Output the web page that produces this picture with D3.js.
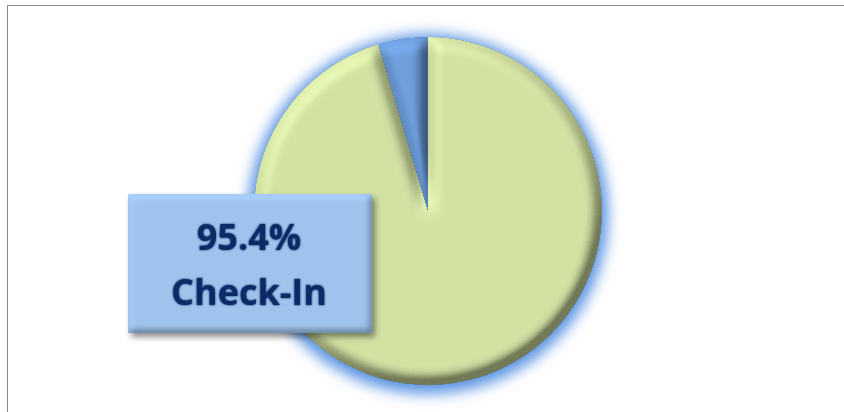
<!DOCTYPE html>
<html>
<head>
<meta charset="utf-8">
<script src="https://cdn.jsdelivr.net/npm/d3@7"></script>
<style>
  html, body { margin: 0; padding: 0; background: #fff; }
  svg { display: block; }
</style>
</head>
<body>
<svg class="chart" width="844" height="412"></svg>
<script>
// chart data
var categories = ["Check-In", "Other"];
var values = [95.4, 4.6];
var sliceColors = ["#D3E2A4", "#6E9EDC"];
var labelIndex = 0;

var svgW = 844;
var svgH = 412;
var cx = 428;
var cy = 211;
var radius = 174;

var svg = d3.select("svg.chart");
var defs = svg.append("defs");

// bevel filter: blurred alpha used as a height map, lit from the top left,
// then multiplied onto the fill so that hues are kept
function addBevel(id, blur, scale, lo, hi) {
    var f = defs.append("filter")
        .attr("id", id)
        .attr("x", "-10%").attr("y", "-10%")
        .attr("width", "120%").attr("height", "120%");
    f.append("feGaussianBlur")
        .attr("in", "SourceAlpha")
        .attr("stdDeviation", blur)
        .attr("result", "blur");
    f.append("feDiffuseLighting")
        .attr("in", "blur")
        .attr("surfaceScale", scale)
        .attr("diffuseConstant", 0.5 / Math.sin(Math.PI * 50 / 180))
        .attr("lighting-color", "#fff")
        .attr("result", "light0")
        .append("feDistantLight")
        .attr("azimuth", 235)
        .attr("elevation", 50);
    // squeeze the light range so edges never go black or white
    var ct = f.append("feComponentTransfer")
        .attr("in", "light0")
        .attr("result", "light");
    ["feFuncR", "feFuncG", "feFuncB"].forEach(function (fn) {
        ct.append(fn)
            .attr("type", "linear")
            .attr("slope", hi - lo)
            .attr("intercept", lo);
    });
    f.append("feComposite")
        .attr("in", "SourceGraphic")
        .attr("in2", "light")
        .attr("operator", "arithmetic")
        .attr("k1", 1 / (lo + (hi - lo) * 0.5)).attr("k2", 0).attr("k3", 0).attr("k4", 0)
        .attr("result", "lit");
    f.append("feComposite")
        .attr("in", "lit")
        .attr("in2", "SourceAlpha")
        .attr("operator", "in");
}
addBevel("bevelPie", 7, 16, 0.13, 0.87);
addBevel("bevelBox", 3.5, 5, 0.2, 0.8);

var glow = defs.append("filter")
    .attr("id", "glow")
    .attr("x", "-20%").attr("y", "-20%")
    .attr("width", "140%").attr("height", "140%");
glow.append("feGaussianBlur").attr("stdDeviation", 7);

var shadow = defs.append("filter")
    .attr("id", "shadow")
    .attr("x", "-20%").attr("y", "-20%")
    .attr("width", "140%").attr("height", "140%");
shadow.append("feGaussianBlur").attr("in", "SourceAlpha").attr("stdDeviation", 3).attr("result", "b");
shadow.append("feOffset").attr("in", "b").attr("dx", 3).attr("dy", 4).attr("result", "o");
shadow.append("feComponentTransfer").attr("in", "o").attr("result", "s")
    .append("feFuncA").attr("type", "linear").attr("slope", 0.45);
var sm = shadow.append("feMerge");
sm.append("feMergeNode").attr("in", "s");
sm.append("feMergeNode").attr("in", "SourceGraphic");

var textGlow = defs.append("filter")
    .attr("id", "textGlow")
    .attr("x", "-10%").attr("y", "-20%")
    .attr("width", "120%").attr("height", "140%");
textGlow.append("feGaussianBlur").attr("in", "SourceGraphic").attr("stdDeviation", 1.3).attr("result", "b");
var tm = textGlow.append("feMerge");
tm.append("feMergeNode").attr("in", "b");
tm.append("feMergeNode").attr("in", "SourceGraphic");

// chart frame
svg.append("rect")
    .attr("x", 7.5)
    .attr("y", 5.5)
    .attr("width", svgW)
    .attr("height", svgH)
    .attr("fill", "none")
    .attr("stroke", "#8a8a8a")
    .attr("stroke-width", 1);

var pie = d3.pie()
    .sort(null)
    .value(function (d) { return d; });
var arc = d3.arc()
    .innerRadius(0)
    .outerRadius(radius);
var arcs = pie(values);

var pieGroup = svg.append("g")
    .attr("transform", "translate(" + cx + "," + cy + ")");

// blue outer glow
pieGroup.append("g")
    .attr("transform", "translate(0,3)")
    .attr("filter", "url(#glow)")
    .selectAll("path")
    .data(arcs)
    .enter()
    .append("path")
    .attr("d", d3.arc().innerRadius(0).outerRadius(radius + 6))
    .attr("fill", "#4a8ae0")
    .attr("opacity", 0.9);

pieGroup.selectAll("path.slice")
    .data(arcs)
    .enter()
    .append("path")
    .classed("slice", true)
    .attr("d", arc)
    .attr("fill", function (d, i) { return sliceColors[i]; })
    .attr("filter", "url(#bevelPie)");

// data label box
var pct = d3.format(".1f");
var labelLines = [pct(values[labelIndex]) + "%", categories[labelIndex]];
var box = { x: 128, y: 194, w: 244, h: 139 };

var labelGroup = svg.append("g").attr("filter", "url(#shadow)");
labelGroup.append("rect")
    .attr("x", box.x)
    .attr("y", box.y)
    .attr("width", box.w)
    .attr("height", box.h)
    .attr("fill", "#9ec3ec")
    .attr("filter", "url(#bevelBox)");

svg.append("g")
    .attr("filter", "url(#textGlow)")
    .selectAll("text")
    .data(labelLines)
    .enter()
    .append("text")
    .attr("x", box.x + box.w / 2 - 1)
    .attr("y", function (d, i) { return 250 + i * 55; })
    .attr("text-anchor", "middle")
    .attr("font-family", "'Open Sans', 'Noto Sans', sans-serif")
    .attr("font-weight", "bold")
    .attr("font-size", 36)
    .attr("fill", "#0b2b66")
    .text(function (d) { return d; });
</script>
</body>
</html>
